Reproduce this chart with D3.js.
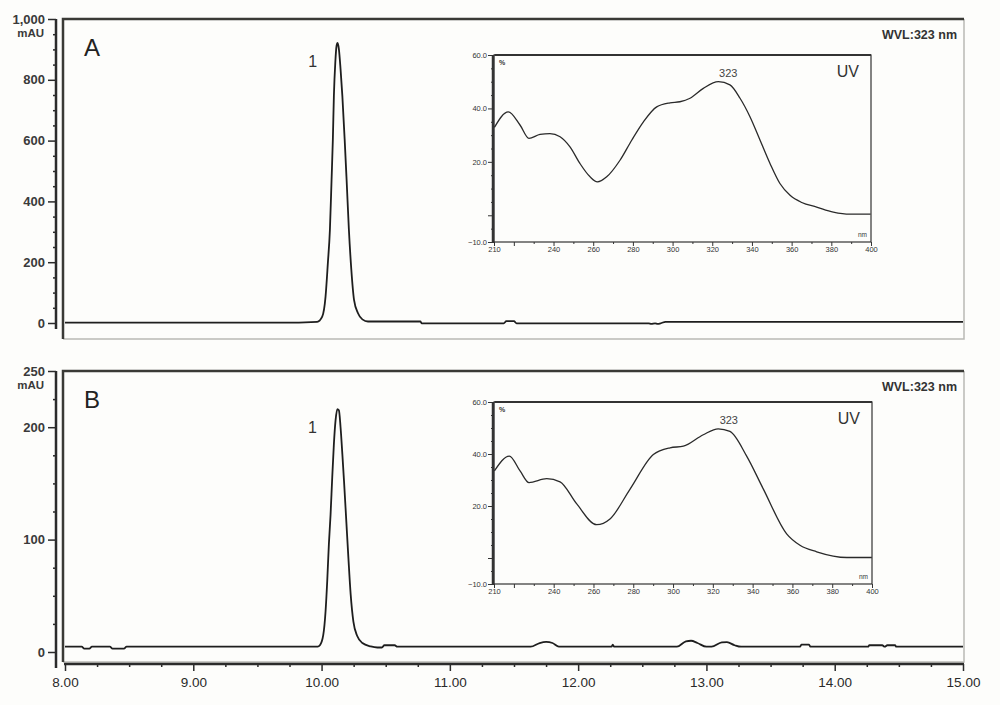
<!DOCTYPE html>
<html>
<head>
<meta charset="utf-8">
<script src="https://cdn.jsdelivr.net/npm/d3@7"></script>
<style>
  body { margin: 0; background: #fdfdfb; }
  svg { display: block; font-family: Arial, "Liberation Sans", sans-serif; }
</style>
</head>
<body>
<script>
// chromatogram traces: [retention time (min), signal (mAU)]
const chromA = [
  [8.00, 1], [9.68, 1], [9.966, 4], [10.005, 21], [10.031, 87], [10.049, 197],
  [10.065, 307], [10.078, 472], [10.088, 604], [10.096, 747], [10.107, 857],
  [10.117, 912], [10.125, 921], [10.135, 901], [10.148, 835], [10.162, 747],
  [10.180, 604], [10.195, 472], [10.213, 307], [10.232, 175], [10.253, 76],
  [10.284, 32], [10.318, 12], [10.362, 5], [10.77, 5], [10.78, -1], [11.42, -1],
  [11.44, 6], [11.50, 6], [11.52, -1], [12.55, -1], [12.57, -3], [12.60, -1],
  [12.62, -3], [12.65, 0], [12.68, 4], [15.00, 4]
];

const chromB = [
  [8.00, 4.7], [8.13, 4.7], [8.15, 3], [8.19, 3], [8.21, 4.7], [8.35, 4.7],
  [8.37, 3], [8.46, 3], [8.48, 4.7], [9.97, 4.7], [9.987, 6], [10.013, 15],
  [10.031, 36], [10.044, 63], [10.057, 96], [10.070, 122], [10.083, 155],
  [10.096, 185], [10.109, 206], [10.123, 216], [10.135, 215], [10.148, 200],
  [10.162, 176], [10.175, 152], [10.193, 116], [10.209, 84], [10.227, 51],
  [10.248, 27], [10.279, 14], [10.318, 8], [10.383, 5], [10.435, 4], [10.47, 4],
  [10.49, 6], [10.57, 6], [10.59, 4.7], [11.63, 4.7], [11.70, 8], [11.75, 9],
  [11.80, 8], [11.85, 4.7], [12.26, 4.7], [12.27, 6.5], [12.28, 4.7],
  [12.77, 4.7], [12.84, 9.5], [12.88, 10], [12.93, 8], [13.00, 4.7],
  [13.04, 4.7], [13.12, 8.5], [13.16, 8.7], [13.22, 6], [13.27, 4.7],
  [13.73, 4.7], [13.74, 6.5], [13.80, 6.5], [13.81, 4.7], [14.26, 4.7],
  [14.27, 6], [14.37, 6], [14.39, 4.7], [14.41, 6], [14.47, 6], [14.48, 4.7],
  [15.00, 4.7]
];

// UV spectra of peak 1: [wavelength (nm), relative absorbance (%)]
const spectrumA = [
  [210.2, 32.9], [217.2, 38.7], [223.1, 33.8], [227.6, 28.8], [233.2, 30.3],
  [238.2, 30.6], [243.3, 29.4], [248.3, 25.6], [253.3, 19.4], [258.4, 14.4],
  [262.1, 12.5], [266.8, 14.4], [273.5, 20.6], [279.4, 28.1], [285.3, 35.0],
  [292.0, 40.6], [298.7, 42.1], [303.7, 42.5], [308.8, 43.8], [315.5, 47.5],
  [323.1, 50.0], [328.9, 48.8], [334.0, 43.8], [339.0, 36.9], [344.1, 28.1],
  [349.1, 19.4], [354.1, 11.9], [359.2, 7.5], [365.1, 4.8], [372.6, 3.1],
  [381.0, 1.2], [389.4, 0.4], [399.8, 0.4]
];

const spectrumB = [
  [210.2, 33.5], [217.7, 39.2], [223.1, 33.5], [227.6, 29.0], [236.5, 30.5],
  [243.2, 29.3], [251.6, 20.8], [261.6, 12.8], [268.3, 15.0], [278.4, 26.5],
  [290.1, 39.8], [298.5, 42.4], [305.2, 43.0], [315.2, 47.4], [322.7, 49.7],
  [328.6, 48.7], [337.0, 39.2], [345.4, 26.5], [357.1, 9.3], [363.8, 4.9],
  [372.2, 2.4], [387.3, 0.2], [399.9, 0.2]
];

// axis ticks
const timeTicks = [8, 9, 10, 11, 12, 13, 14, 15];
const mauTicksA = [0, 200, 400, 600, 800, 1000];
const mauTicksB = [0, 100, 200, 250];
const nmTicks = [210, 220, 240, 260, 280, 300, 320, 340, 360, 380, 400];
const nmLabels = [210, 240, 260, 280, 300, 320, 340, 360, 380, 400];
const pctTicks = [-10, 0, 20, 40, 60];
const pctLabels = [-10, 20, 40, 60];

const panels = [
  { name: "A", data: chromA, spectrum: spectrumA, ticks: mauTicksA, max: 1000,
    minorStep: 50, top: 19, bottom: 339, zeroY: 323, axisEnd: 329,
    inset: { x0: 494, x1: 871, y0: 55, y1: 242 } },
  { name: "B", data: chromB, spectrum: spectrumB, ticks: mauTicksB, max: 250,
    minorStep: 25, top: 371, bottom: 662, zeroY: 652, axisEnd: 668,
    inset: { x0: 494, x1: 872, y0: 402, y1: 584 } }
];

const W = 1000, H = 705;
const frameLeft = 63, frameRight = 964, axisX = 56;
const ink = "#2b2b2b";

const svg = d3.select("body").append("svg").attr("width", W).attr("height", H);
svg.append("rect").attr("width", W).attr("height", H).attr("fill", "#fdfdfb");

const x = d3.scaleLinear().domain([8, 15]).range([65, 963]);

panels.forEach((p) => {
  const g = svg.append("g");
  const y = d3.scaleLinear().domain([0, p.max]).range([p.zeroY, p.top]);

  // frame: dark top/left, light right/bottom
  g.append("rect")
    .attr("x", frameLeft).attr("y", p.top)
    .attr("width", frameRight - frameLeft).attr("height", p.bottom - p.top)
    .attr("fill", "#fdfdfb");
  g.append("path")
    .attr("d", `M${frameRight},${p.top}V${p.bottom}H${frameLeft}`)
    .attr("fill", "none").attr("stroke", "#b9b9b5").attr("stroke-width", 1.5);
  g.append("path")
    .attr("d", `M${frameLeft},${p.bottom}V${p.top}H${frameRight}`)
    .attr("fill", "none").attr("stroke", "#3a3a36").attr("stroke-width", 2.5);

  // y axis
  const minor = d3.range(0, p.max + 0.1, p.minorStep).filter((v) => !p.ticks.includes(v));
  const yAxis = g.append("g").attr("transform", `translate(${axisX},0)`);
  yAxis.call(
    d3.axisLeft(y).tickValues(minor).tickSize(3).tickFormat("")
  );
  yAxis.call((a) =>
    a.append("g").call(
      d3.axisLeft(y).tickValues(p.ticks).tickSize(8).tickPadding(3)
        .tickFormat(d3.format(","))
    )
  );
  yAxis.selectAll(".domain").remove();
  yAxis.selectAll("line").attr("stroke", ink).attr("stroke-width", 1.5);
  yAxis.selectAll("text")
    .attr("fill", "#3a3a3a").attr("font-size", 13).attr("font-weight", "bold");
  yAxis.append("line")
    .attr("x1", 0).attr("x2", 0).attr("y1", p.top).attr("y2", p.axisEnd)
    .attr("stroke", ink).attr("stroke-width", 2.5);
  g.append("text")
    .attr("x", 44).attr("y", p.top + 18)
    .attr("text-anchor", "end").attr("font-size", 11.5).attr("font-weight", "bold")
    .attr("fill", "#3a3a3a").text("mAU");

  // panel letter, wavelength, peak label
  g.append("text").attr("x", 84).attr("y", p.top + 37)
    .attr("font-size", 24).attr("fill", "#222").text(p.name);
  g.append("text").attr("x", 957).attr("y", p.top + 20)
    .attr("text-anchor", "end").attr("font-size", 12.5).attr("font-weight", "bold")
    .attr("fill", "#333").text("WVL:323 nm");
  const apex = p.data.reduce((a, b) => (b[1] > a[1] ? b : a));
  g.append("text").attr("x", x(apex[0]) - 25).attr("y", y(apex[1]) + 24)
    .attr("text-anchor", "middle").attr("font-size", 16).attr("fill", "#333")
    .text("1");

  // chromatogram trace
  g.append("path")
    .datum(p.data)
    .attr("fill", "none").attr("stroke", "#1e1e1e").attr("stroke-width", 1.8)
    .attr("d", d3.line().x((d) => x(d[0])).y((d) => y(d[1])).curve(d3.curveMonotoneX));

  drawInset(g, p.spectrum, p.inset);
});

function drawInset(g, spectrum, box) {
  const sx = d3.scaleLinear().domain([210, 400]).range([box.x0, box.x1]);
  const sy = d3.scaleLinear().domain([-10, 60]).range([box.y1, box.y0]);
  const ig = g.append("g");

  ig.append("rect")
    .attr("x", box.x0).attr("y", box.y0)
    .attr("width", box.x1 - box.x0).attr("height", box.y1 - box.y0)
    .attr("fill", "#fdfdfb").attr("stroke", "#333").attr("stroke-width", 1.2);
  ig.append("line")
    .attr("x1", box.x0 + 0.5).attr("x2", box.x1).attr("y1", box.y0).attr("y2", box.y0)
    .attr("stroke", "#333").attr("stroke-width", 2.2);

  // left axis
  const left = ig.append("g").attr("transform", `translate(${box.x0 - 1},0)`);
  left.call(
    d3.axisLeft(sy).tickValues(d3.range(-10, 60.1, 5).filter((v) => !pctTicks.includes(v)))
      .tickSize(2).tickFormat("")
  );
  left.append("g").call(
    d3.axisLeft(sy).tickValues(pctTicks).tickSize(5).tickPadding(1)
      .tickFormat((d) => (pctLabels.includes(d) ? d3.format(".1f")(d) : ""))
  );
  left.selectAll(".domain").remove();
  left.selectAll("line").attr("stroke", "#333");
  left.selectAll("text").attr("font-size", 7.5).attr("fill", "#333");
  left.append("line").attr("y1", box.y0).attr("y2", box.y1 + 1)
    .attr("stroke", "#333").attr("stroke-width", 2.5);

  // bottom axis
  const bottom = ig.append("g").attr("transform", `translate(0,${box.y1})`);
  bottom.call(
    d3.axisBottom(sx).tickValues(d3.range(210, 400.1, 10).filter((v) => !nmTicks.includes(v)))
      .tickSize(2).tickFormat("")
  );
  bottom.append("g").call(
    d3.axisBottom(sx).tickValues(nmTicks).tickSize(4).tickPadding(1)
      .tickFormat((d) => (nmLabels.includes(d) ? d : ""))
  );
  bottom.selectAll(".domain").remove();
  bottom.selectAll("line").attr("stroke", "#333");
  bottom.selectAll("text").attr("font-size", 7.5).attr("fill", "#333");

  ig.append("text").attr("x", box.x0 + 5).attr("y", box.y0 + 10)
    .attr("font-size", 7).attr("font-weight", "bold").attr("fill", "#333").text("%");
  ig.append("text").attr("x", box.x1 - 4).attr("y", box.y1 - 5)
    .attr("text-anchor", "end").attr("font-size", 6.5).attr("fill", "#333").text("nm");
  ig.append("text").attr("x", box.x1 - 12).attr("y", box.y0 + 22)
    .attr("text-anchor", "end").attr("font-size", 16).attr("fill", "#333").text("UV");

  const top = spectrum.reduce((a, b) => (b[1] > a[1] ? b : a));
  ig.append("text").attr("x", sx(323) + 10).attr("y", box.y0 + 22)
    .attr("text-anchor", "middle").attr("font-size", 11).attr("fill", "#444")
    .text(Math.round(top[0]));

  ig.append("path")
    .datum(spectrum)
    .attr("fill", "none").attr("stroke", "#2a2a2a").attr("stroke-width", 1.3)
    .attr("d", d3.line().x((d) => sx(d[0])).y((d) => sy(d[1])).curve(d3.curveMonotoneX));
}

// shared time axis
const xAxis = svg.append("g").attr("transform", "translate(0,664)");
xAxis.call(
  d3.axisBottom(x).tickValues(d3.range(8, 15.01, 0.25).filter((v) => v % 1 !== 0))
    .tickSize(3).tickFormat("")
);
xAxis.append("g").call(
  d3.axisBottom(x).tickValues(timeTicks).tickSize(7).tickPadding(6)
    .tickFormat(d3.format(".2f"))
);
xAxis.selectAll(".domain").remove();
xAxis.selectAll("line").attr("stroke", ink).attr("stroke-width", 1.5);
xAxis.selectAll("text").attr("font-size", 13.5).attr("fill", "#2a2a2a");
xAxis.append("line").attr("x1", 64).attr("x2", 964)
  .attr("stroke", ink).attr("stroke-width", 2.5);
</script>
</body>
</html>
